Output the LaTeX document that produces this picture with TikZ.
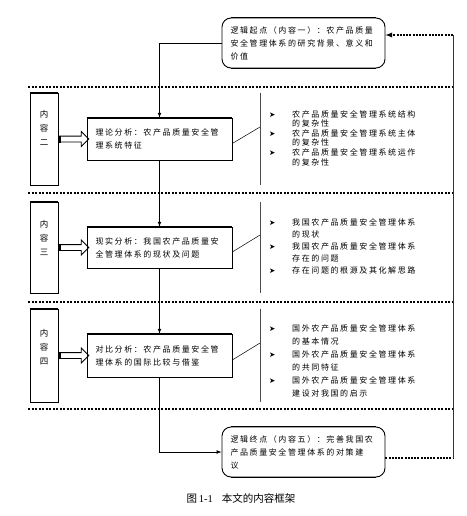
\documentclass[tikz,border=0pt]{standalone}
\usepackage{fontspec}
\setmainfont{Liberation Serif}
\newfontfamily\cjk[LetterSpace=20]{Noto Sans CJK SC}
\newfontfamily\cjkplain{Noto Sans CJK SC}
\newfontfamily\sym{DejaVu Sans}
\usetikzlibrary{arrows,shapes,positioning}

\newcommand\bul{{\sym\fontsize{7.5}{9}\selectfont ➤}}

\begin{document}
\begin{tikzpicture}[x=1pt, y=-1pt,
  every node/.style={font=\cjk\fontsize{8}{13}\selectfont},
  box/.style={draw, line width=0.6pt, minimum width=145pt, minimum height=42pt, text width=128pt, inner xsep=8.5pt, align=left},
  rbox/.style={draw, line width=0.9pt, rounded corners=9pt, minimum width=163pt, minimum height=50pt, text width=146pt, inner xsep=8.5pt, align=left},
  side/.style={draw, line width=0.6pt, minimum width=28pt, minimum height=92pt},
  sidetext/.style={align=center, anchor=north, yshift=-17pt, inner sep=0pt, font=\cjkplain\fontsize{8.5}{14}\selectfont},
  sep/.style={line width=1.3pt, dash pattern=on 2pt off 1.5pt},
  flow/.style={-latex, line width=0.7pt},
  back/.style={line width=1.3pt, dash pattern=on 2pt off 1.2pt},
  harrow/.style={single arrow, draw, line width=0.8pt, minimum height=30pt, inner sep=2.5pt, single arrow head extend=4.5pt, anchor=tail},
]
\useasboundingbox (0,0) rectangle (466,516);

% separators
\foreach \y in {87,193,302,409}
  \draw[sep] (28,\y) -- (453,\y);

% start and end
\node[rbox] (start) at (303.5,43) {逻辑起点（内容一）：农产品质量\\安全管理体系的研究背景、意义和\\价值};
\node[rbox] (end) at (303.5,452) {逻辑终点（内容五）：完善我国农\\产品质量安全管理体系的对策建\\议};
\foreach \b in {start,end} {
  \draw[line width=1.8pt] ([xshift=9pt]\b.north west) -- ([xshift=-9pt]\b.north east);
  \draw[line width=1.8pt] ([xshift=9pt]\b.south west) -- ([xshift=-9pt]\b.south east);
}

% content boxes
\node[box] (c2) at (159.5,139) {理论分析：农产品质量安全管\\理系统特征};
\node[box, minimum height=41pt] (c3) at (159.5,247.5) {现实分析：我国农产品质量安\\全管理体系的现状及问题};
\node[box, minimum height=43pt] (c4) at (159.5,355.5) {对比分析：农产品质量安全管\\理体系的国际比较与借鉴};

\node[side, label={[sidetext]north:内\\容\\二}] (s2) at (44,139) {};
\node[side, minimum height=91pt, label={[sidetext, yshift=-1pt]north:内\\容\\三}] (s3) at (44,247.5) {};
\node[side, minimum height=93pt, label={[sidetext, yshift=-3pt]north:内\\容\\四}] (s4) at (44,355.5) {};

\foreach \n/\t/\b/\k in {2/93/185/127, 3/202/293/235, 4/309/402/343} {
  \node[harrow] (a\n) at (s\n.east) {};
  \fill ([yshift=3.5pt]a\n.tail) rectangle ([xshift=3pt,yshift=-3.5pt]a\n.tail);
  \draw[line width=1.6pt] (c\n.north west) -- (c\n.north east);
  \draw[line width=1.6pt] (s\n.north west) -- (s\n.north east);
  \draw[black!70, line width=0.6pt] (260,\t) -- (260,\b);
  \coordinate (k\n) at (260,\k);
  \draw[line width=0.5pt] ([yshift=-4.5pt]c\n.east) -- (k\n);
}

% bullet lists
\node[anchor=north west, inner sep=0pt] (t2) at (269,110) {\fontsize{8}{9.6}\selectfont
  \begin{tabular}{@{}p{23pt}@{}l@{}}
  \bul & 农产品质量安全管理系统结构\\
   & 的复杂性\\
  \bul & 农产品质量安全管理系统主体\\
   & 的复杂性\\
  \bul & 农产品质量安全管理系统运作\\
   & 的复杂性
  \end{tabular}};
\node[anchor=north west, inner sep=0pt] (t3) at (269,216.5) {\fontsize{8}{12}\selectfont
  \begin{tabular}{@{}p{23pt}@{}l@{}}
  \bul & 我国农产品质量安全管理体系\\
   & 的现状\\
  \bul & 我国农产品质量安全管理体系\\
   & 存在的问题\\
  \bul & 存在问题的根源及其化解思路
  \end{tabular}};
\node[anchor=north west, inner sep=0pt] (t4) at (269,322) {\fontsize{8}{13}\selectfont
  \begin{tabular}{@{}p{23pt}@{}l@{}}
  \bul & 国外农产品质量安全管理体系\\
   & 的基本情况\\
  \bul & 国外农产品质量安全管理体系\\
   & 的共同特征\\
  \bul & 国外农产品质量安全管理体系\\
   & 建设对我国的启示
  \end{tabular}};

% flow
\coordinate (r1) at (453,458);
\coordinate (r2) at (453,35);
\draw[flow] (start.west) -| (c2.north);
\draw[flow] (c2) -- (c3);
\draw[flow] (c3) -- (c4);
\draw[flow] (c4.south) |- (end.west);
\draw[back] ([yshift=-6pt]end.east) -- (r1);
\draw[black!80, line width=0.8pt] (r1) -- (r2);
\draw[back, -latex] (r2) -- ([yshift=8pt]start.east);

\node[font=\rmfamily\fontsize{10.5}{12}\selectfont] (cap) at (241,498) {{\cjkplain 图}\,1-1\hspace{9pt}{\cjkplain 本文的内容框架}};

\end{tikzpicture}
\end{document}
